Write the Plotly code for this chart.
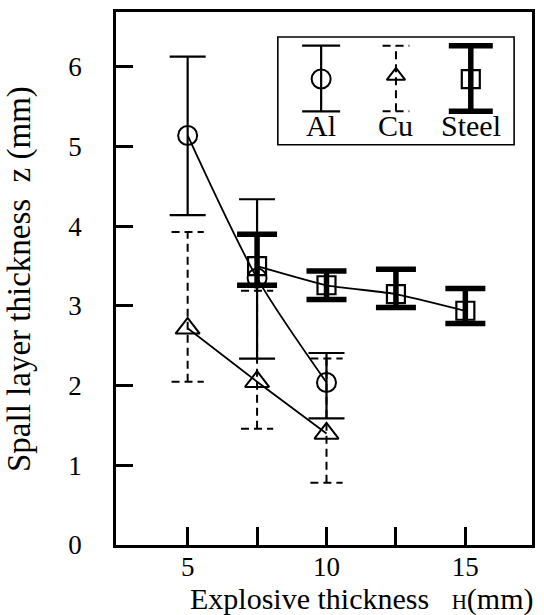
import plotly.graph_objects as go

# ---------------- data ----------------
al_x = [5, 7.5, 10]
al_y = [5.14, 3.35, 2.04]
al_hi = [6.13, 4.34, 2.41]
al_lo = [4.14, 2.34, 1.59]

cu_x = [5, 7.5, 10]
cu_y = [2.72, 2.05, 1.40]
cu_hi = [3.93, 3.19, 2.34]
cu_lo = [2.05, 1.46, 0.78]

st_x = [7.5, 10, 12.5, 15]
st_y = [3.50, 3.26, 3.15, 2.94]
st_hi = [3.90, 3.44, 3.46, 3.22]
st_lo = [3.26, 3.08, 2.98, 2.78]

x_tickvals = [5, 7.5, 10, 12.5, 15]
x_ticktext = ["5", "", "10", "", "15"]
y_tickvals = [0, 1, 2, 3, 4, 5, 6]
y_ticktext = ["0", "1", "2", "3", "4", "5", "6"]

legend_labels = ["Al", "Cu", "Steel"]

FONT = "Liberation Serif, Times New Roman, serif"
BLACK = "black"


def dashed_bars(xs, his, los, half):
    """Build a dashed error-bar path (stem + caps) from the data arrays."""
    px, py = [], []
    for x, h, l in zip(xs, his, los):
        px += [x, x, None, x - half, x + half, None, x - half, x + half, None]
        py += [l, h, None, h, h, None, l, l, None]
    return px, py


fig = go.Figure()

# ---- Al: circles, solid error bars, smooth curve ----
fig.add_trace(go.Scatter(
    x=al_x, y=al_y, mode="lines+markers",
    line=dict(color=BLACK, width=1.8, shape="spline", smoothing=0.8),
    marker=dict(symbol="circle-open", size=19, color=BLACK, line=dict(width=2, color=BLACK)),
    error_y=dict(type="data", symmetric=False,
                 array=[h - y for h, y in zip(al_hi, al_y)],
                 arrayminus=[y - l for y, l in zip(al_y, al_lo)],
                 color=BLACK, thickness=2.2, width=18),
    showlegend=False, hoverinfo="skip"))

# ---- Cu: triangles, dashed error bars ----
cx, cy = dashed_bars(cu_x, cu_hi, cu_lo, 0.58)
fig.add_trace(go.Scatter(
    x=cx, y=cy, mode="lines",
    line=dict(color=BLACK, width=2, dash="8px,5px"),
    showlegend=False, hoverinfo="skip"))
fig.add_trace(go.Scatter(
    x=cu_x, y=cu_y, mode="lines+markers",
    line=dict(color=BLACK, width=1.8, shape="spline", smoothing=0.4),
    marker=dict(symbol="triangle-up-open", size=21, color=BLACK, line=dict(width=2, color=BLACK)),
    showlegend=False, hoverinfo="skip"))

# ---- Steel: squares, thick error bars ----
fig.add_trace(go.Scatter(
    x=st_x, y=st_y, mode="lines+markers",
    line=dict(color=BLACK, width=1.8, shape="spline", smoothing=0.4),
    marker=dict(symbol="square-open", size=18, color=BLACK, line=dict(width=2.2, color=BLACK)),
    error_y=dict(type="data", symmetric=False,
                 array=[h - y for h, y in zip(st_hi, st_y)],
                 arrayminus=[y - l for y, l in zip(st_y, st_lo)],
                 color=BLACK, thickness=5.5, width=20),
    showlegend=False, hoverinfo="skip"))

# ---------------- hand-made legend on an overlay axis ----------------
lg_x = [0.55, 1.5, 2.45]
lg_y = 0.61
lg_up = 0.31
lg_dn = 0.30
fig.add_trace(go.Scatter(
    x=[lg_x[0]], y=[lg_y], xaxis="x2", yaxis="y2", mode="markers",
    marker=dict(symbol="circle-open", size=19, color=BLACK, line=dict(width=2)),
    error_y=dict(type="data", symmetric=False, array=[lg_up], arrayminus=[lg_dn],
                 color=BLACK, thickness=2.2, width=19),
    showlegend=False, hoverinfo="skip"))
lcx, lcy = dashed_bars([lg_x[1]], [lg_y + lg_up], [lg_y - lg_dn], 0.17)
fig.add_trace(go.Scatter(
    x=lcx, y=lcy, xaxis="x2", yaxis="y2", mode="lines",
    line=dict(color=BLACK, width=2, dash="8px,5px"),
    showlegend=False, hoverinfo="skip"))
fig.add_trace(go.Scatter(
    x=[lg_x[1]], y=[lg_y + 0.03], xaxis="x2", yaxis="y2", mode="markers",
    marker=dict(symbol="triangle-up-open", size=16, color=BLACK, line=dict(width=2)),
    showlegend=False, hoverinfo="skip"))
fig.add_trace(go.Scatter(
    x=[lg_x[2]], y=[lg_y], xaxis="x2", yaxis="y2", mode="markers",
    marker=dict(symbol="square-open", size=18, color=BLACK, line=dict(width=2.2)),
    error_y=dict(type="data", symmetric=False, array=[lg_up], arrayminus=[lg_dn],
                 color=BLACK, thickness=5.5, width=22),
    showlegend=False, hoverinfo="skip"))
for lx, lab in zip(lg_x, legend_labels):
    fig.add_annotation(x=lx, y=0.18, xref="x2", yref="y2", text=lab,
                       showarrow=False, font=dict(family=FONT, size=30, color=BLACK))

# legend frame
fig.add_shape(type="rect", xref="paper", yref="paper",
              x0=0.389, x1=0.957, y0=0.751, y1=0.953,
              line=dict(color=BLACK, width=1.6), fillcolor="rgba(0,0,0,0)")

# ---------------- axis titles ----------------
fig.add_annotation(xref="paper", yref="paper", x=-0.232, y=0.5,
                   xanchor="center", yanchor="middle",
                   text="Spall layer thickness&nbsp;&nbsp;z (mm)", textangle=-90,
                   showarrow=False, font=dict(family=FONT, size=33, color=BLACK))
fig.add_annotation(xref="paper", yref="paper", x=0.591, y=-0.102,
                   xanchor="center", yanchor="middle",
                   text="Explosive thickness&nbsp;&nbsp;&nbsp;<span style='font-size:21px'>H</span>(mm)",
                   showarrow=False, font=dict(family=FONT, size=30, color=BLACK))

fig.update_layout(
    width=544, height=615,
    margin=dict(l=116, r=9, t=10, b=70),
    paper_bgcolor="white", plot_bgcolor="white",
    font=dict(family=FONT, color=BLACK),
    xaxis=dict(range=[2.42, 17.4], tickvals=x_tickvals, ticktext=x_ticktext,
               ticks="inside", ticklen=18, tickwidth=2.5, tickcolor=BLACK,
               showline=True, linewidth=2.5, linecolor=BLACK, mirror=True,
               showgrid=False, zeroline=False, ticklabelstandoff=-4,
               tickfont=dict(family=FONT, size=27, color=BLACK)),
    yaxis=dict(range=[0, 6.69], tickvals=y_tickvals, ticktext=y_ticktext,
               ticks="inside", ticklen=17, tickwidth=2.5, tickcolor=BLACK,
               showline=True, linewidth=2.5, linecolor=BLACK, mirror=True,
               showgrid=False, zeroline=False, ticklabelstandoff=26,
               tickfont=dict(family=FONT, size=27, color=BLACK)),
    xaxis2=dict(domain=[0.389, 0.957], range=[0, 3], anchor="y2",
                visible=False, fixedrange=True),
    yaxis2=dict(domain=[0.751, 0.953], range=[0, 1], anchor="x2",
                visible=False, fixedrange=True),
)

fig.write_html("out.html", config={"displayModeBar": False},
               post_script="document.body.style.margin='0';document.body.style.overflow='hidden';")
